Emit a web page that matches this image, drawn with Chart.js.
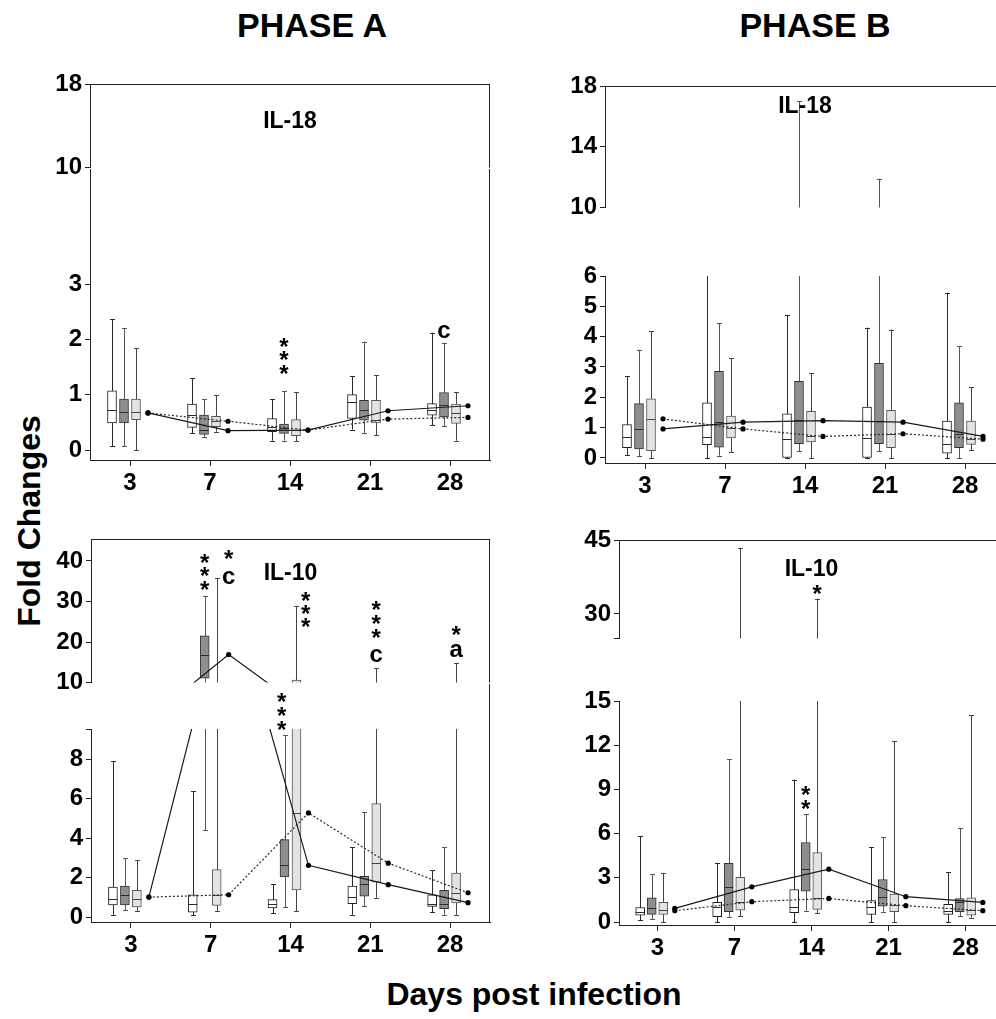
<!DOCTYPE html>
<html>
<head>
<meta charset="utf-8">
<script src="https://cdn.jsdelivr.net/npm/chart.js@4.4.1/dist/chart.umd.min.js"></script>
<style>
  html, body { margin: 0; padding: 0; background: #fff; overflow: hidden; }
  #stage { position: relative; width: 996px; height: 1019px; overflow: hidden; background: #fff; }
  #stage canvas { position: absolute; }
  .t { position: absolute; font-family: "Liberation Sans", Arial, Helvetica, sans-serif; font-weight: bold;
       color: #000; white-space: nowrap; line-height: 1; transform: translate(-50%, -50%); }
</style>
</head>
<body>
<div id="stage">
  <div class="t" style="left:312px; top:25px; font-size:34px;">PHASE A</div>
  <div class="t" style="left:815px; top:25px; font-size:34px;">PHASE B</div>
  <div class="t" style="left:29px; top:521px; font-size:32px; transform: translate(-50%, -50%) rotate(-90deg);">Fold Changes</div>
  <div class="t" style="left:534px; top:994px; font-size:32px;">Days post infection</div>
</div>
<script>
// ---- categories ----
const DAYS = ['3', '7', '14', '21', '28'];

// ---- five-number summaries per day: [lower whisker, Q1, median, Q3, upper whisker] ----
// Phase A, IL-18
const A18_WHITE = [[0.07, 0.49, 0.73, 1.07, 2.36], [0.31, 0.41, 0.63, 0.83, 1.30], [0.17, 0.33, 0.42, 0.57, 0.92], [0.37, 0.57, 0.87, 1.00, 1.33], [0.45, 0.63, 0.72, 0.84, 2.12]];
const A18_DARK  = [[0.07, 0.49, 0.69, 0.92, 2.20], [0.24, 0.28, 0.36, 0.63, 0.92], [0.17, 0.30, 0.39, 0.47, 1.07], [0.31, 0.54, 0.72, 0.90, 1.96], [0.43, 0.60, 0.81, 1.04, 1.94]];
const A18_LIGHT = [[0.00, 0.55, 0.68, 0.92, 1.84], [0.33, 0.42, 0.52, 0.61, 0.99], [0.16, 0.26, 0.36, 0.55, 1.04], [0.27, 0.49, 0.55, 0.90, 1.35], [0.17, 0.48, 0.67, 0.83, 1.04]];
const A18_SOLID  = [0.67, 0.35, 0.36, 0.71, 0.80];
const A18_DOTTED = [0.67, 0.52, 0.36, 0.56, 0.59];

// Phase B, IL-18
const B18_WHITE = [[0.09, 0.34, 0.69, 1.10, 2.69], [0.00, 0.44, 0.69, 1.82, 7.50], [0.00, 0.00, 0.64, 1.46, 4.72], [0.00, 0.00, 0.67, 1.68, 4.30], [0.00, 0.16, 0.47, 1.22, 5.45]];
const B18_DARK  = [[0.05, 0.30, 0.96, 1.79, 3.57], [0.08, 0.36, 1.18, 2.86, 4.45], [0.22, 0.47, 1.24, 2.53, 17.0], [0.23, 0.47, 1.22, 3.12, 11.9], [0.00, 0.34, 0.78, 1.82, 3.69]];
const B18_LIGHT = [[0.00, 0.24, 1.29, 1.95, 4.19], [0.20, 0.66, 0.99, 1.38, 3.29], [0.00, 0.53, 0.74, 1.54, 2.80], [0.00, 0.34, 0.80, 1.57, 4.23], [0.25, 0.45, 0.64, 1.22, 2.33]];
const B18_SOLID  = [0.96, 1.18, 1.23, 1.18, 0.71];
const B18_DOTTED = [1.29, 0.96, 0.71, 0.80, 0.62];

// Phase A, IL-10
const A10_WHITE = [[0.12, 0.62, 0.93, 1.52, 7.88], [0.08, 0.25, 0.68, 1.13, 6.38], [0.20, 0.46, 0.68, 0.88, 1.65], [0.12, 0.68, 1.01, 1.57, 3.54], [0.25, 0.54, 0.68, 1.13, 2.36]];
const A10_DARK  = [[0.34, 0.62, 1.13, 1.57, 2.99], [4.42, 11.1, 16.9, 21.5, 31.4], [0.51, 2.03, 2.65, 3.92, 9.20], [0.54, 1.06, 1.69, 2.06, 5.32], [0.12, 0.42, 0.68, 1.35, 3.54]];
const A10_LIGHT = [[0.29, 0.51, 0.93, 1.35, 2.87], [0.30, 0.59, 1.10, 2.40, 35.7], [0.30, 1.38, 5.27, 10.65, 28.9], [0.98, 1.77, 2.73, 5.74, 13.5], [0.12, 0.71, 1.22, 2.23, 14.9]];
const A10_SOLID  = [1.01, 16.9, 2.62, 1.64, 0.73];
const A10_DOTTED = [1.01, 1.13, 5.27, 2.73, 1.23];

// Phase B, IL-10
const B10_WHITE = [[0.14, 0.47, 0.66, 0.99, 5.83], [0.00, 0.36, 1.04, 1.33, 4.02], [0.00, 0.63, 0.99, 2.21, 9.67], [0.00, 0.52, 1.04, 1.45, 5.06], [0.00, 0.52, 0.77, 1.20, 3.37]];
const B10_DARK  = [[0.20, 0.52, 0.93, 1.65, 3.23], [0.36, 0.70, 2.39, 3.98, 11.05], [0.77, 2.10, 3.57, 5.40, 7.30], [0.70, 1.08, 1.72, 2.89, 5.78], [0.41, 0.70, 1.38, 1.60, 6.39]];
const B10_LIGHT = [[0.00, 0.52, 0.81, 1.33, 3.34], [0.41, 0.81, 1.38, 3.03, 43.4], [0.59, 0.86, 1.60, 4.72, 33.1], [0.00, 0.70, 1.15, 1.90, 12.29], [0.29, 0.47, 0.81, 1.65, 14.03]];
const B10_SOLID  = [0.93, 2.39, 3.59, 1.72, 1.33];
const B10_DOTTED = [0.77, 1.38, 1.60, 1.11, 0.77];

// ---- y tick values of the broken axes (upper and lower part) ----
const A18_TICKS_UP = [10, 18];
const A18_TICKS_LOW = [0, 1, 2, 3];
const B18_TICKS_UP = [10, 14, 18];
const B18_TICKS_LOW = [0, 1, 2, 3, 4, 5, 6];
const A10_TICKS_UP = [10, 20, 30, 40];
const A10_TICKS_LOW = [0, 2, 4, 6, 8];
const B10_TICKS_UP = [30, 45];
const B10_TICKS_LOW = [0, 3, 6, 9, 12, 15];

// ---- drawing constants ----
const FONT = '"Liberation Sans", Arial, Helvetica, sans-serif';
const YW = 70;      // width reserved for the y axis
const XH = 50;      // height reserved for the x axis
const PADT = 20, PADB = 16, PR = 6;
const SLOT = 0.15;  // distance between neighbouring members of a day group, in day units
const S_WHITE = -1.5 * SLOT, S_DARK = -0.5 * SLOT, S_LIGHT = 0.5 * SLOT, S_DOT = 1.5 * SLOT;
const BOX_W = 9;

const STYLE = {
  white: { fill: '#ffffff', edge: '#1e1e1e', whisker: '#2a2a2a', median: '#2a2a2a', shift: S_WHITE },
  dark:  { fill: '#8e8e8e', edge: '#333333', whisker: '#555555', median: '#2e2e2e', shift: S_DARK },
  light: { fill: '#e3e3e3', edge: '#555555', whisker: '#444444', median: '#444444', shift: S_LIGHT }
};

function boxDataset(rows, st) {
  return {
    type: 'bar', order: 2, xAxisID: 'xp', grouped: false,
    data: rows.map((r, i) => ({ x: i + st.shift, y: [r[1], r[3]] })),
    lo: rows.map(r => r[0]), med: rows.map(r => r[2]), hi: rows.map(r => r[4]),
    backgroundColor: st.fill, borderColor: st.edge, borderWidth: 1, borderSkipped: false,
    barThickness: BOX_W, whiskerColor: st.whisker, medianColor: st.median
  };
}

function trendDataset(vals, dotted) {
  return {
    type: 'line', order: 0, xAxisID: 'xp', grouped: false,
    data: vals.map((v, i) => ({ x: i + S_DOT, y: v })),
    borderColor: dotted ? '#2a2a2a' : '#1a1a1a', borderWidth: 1.2,
    borderDash: dotted ? [2, 2] : [],
    pointRadius: 2.6, pointBackgroundColor: '#000', pointBorderColor: '#000', pointBorderWidth: 0,
    tension: 0, fill: false
  };
}

// whiskers behind each box, median line over it
const boxParts = {
  id: 'boxParts',
  beforeDatasetDraw(chart, args) {
    const ds = chart.data.datasets[args.index];
    if (!ds.lo) return;
    const y = chart.scales.y, a = chart.chartArea, ctx = chart.ctx;
    ctx.save();
    ctx.beginPath(); ctx.rect(a.left, a.top, a.right - a.left, a.bottom - a.top); ctx.clip();
    ctx.strokeStyle = ds.whiskerColor; ctx.lineWidth = 1;
    args.meta.data.forEach((bar, j) => {
      const x = Math.round(bar.x) + 0.5;
      const y0 = y.getPixelForValue(ds.lo[j]), y1 = y.getPixelForValue(ds.hi[j]);
      const c = 2.5;
      ctx.beginPath();
      ctx.moveTo(x, y0); ctx.lineTo(x, y1);
      ctx.moveTo(x - c, Math.round(y0) + 0.5); ctx.lineTo(x + c, Math.round(y0) + 0.5);
      ctx.moveTo(x - c, Math.round(y1) + 0.5); ctx.lineTo(x + c, Math.round(y1) + 0.5);
      ctx.stroke();
    });
    ctx.restore();
  },
  afterDatasetDraw(chart, args) {
    const ds = chart.data.datasets[args.index];
    if (!ds.med) return;
    const y = chart.scales.y, a = chart.chartArea, ctx = chart.ctx;
    ctx.save();
    ctx.beginPath(); ctx.rect(a.left, a.top, a.right - a.left, a.bottom - a.top); ctx.clip();
    ctx.strokeStyle = ds.medianColor; ctx.lineWidth = 1;
    args.meta.data.forEach((bar, j) => {
      const ym = Math.round(y.getPixelForValue(ds.med[j])) + 0.5;
      ctx.beginPath();
      ctx.moveTo(bar.x - bar.width / 2, ym); ctx.lineTo(bar.x + bar.width / 2, ym);
      ctx.stroke();
    });
    ctx.restore();
  }
};

// panel frame: top / right edges and the axis lines running through the break
function framePlugin(f) {
  return {
    id: 'frame',
    afterDraw(chart) {
      const a = chart.chartArea, ctx = chart.ctx;
      const L = Math.round(a.left) + 0.5, R = Math.round(a.right) - 0.5, T = Math.round(a.top) + 0.5;
      ctx.save();
      ctx.strokeStyle = '#222'; ctx.lineWidth = 1;
      ctx.beginPath();
      if (f.top) { ctx.moveTo(L - 0.5, T); ctx.lineTo(R + 0.5, T); }
      if (f.right) { ctx.moveTo(R, a.top); ctx.lineTo(R, a.bottom); }
      if (f.riseLeft) { ctx.moveTo(L, 0); ctx.lineTo(L, a.top); }
      if (f.riseRight) { ctx.moveTo(R, 0); ctx.lineTo(R, a.top); }
      ctx.stroke();
      ctx.restore();
    }
  };
}

// text marks placed in data coordinates (group index + slot, value)
function marksPlugin(items) {
  return {
    id: 'marks',
    afterDraw(chart) {
      const ctx = chart.ctx, xs = chart.scales.xp, ys = chart.scales.y;
      items.forEach(it => {
        const x = xs.getPixelForValue(it.g + (it.dx || 0));
        const y = ys.getPixelForValue(it.y);
        ctx.save();
        ctx.font = 'bold ' + (it.size || 24) + 'px ' + FONT;
        ctx.fillStyle = '#000'; ctx.textAlign = 'center'; ctx.textBaseline = 'alphabetic';
        const m = ctx.measureText(it.t);
        ctx.fillText(it.t, x, y + (m.actualBoundingBoxAscent - m.actualBoundingBoxDescent) / 2);
        ctx.restore();
      });
    }
  };
}

function segment(g) {
  const stage = document.getElementById('stage');
  const canvas = document.createElement('canvas');
  const left = g.axisX - YW;
  const above = g.above, below = g.showX ? XH : PADB;
  const width = g.right - left + PR;
  const height = g.bottom - g.top + above + below;
  canvas.width = width; canvas.height = height;
  canvas.style.left = left + 'px'; canvas.style.top = (g.top - above) + 'px';
  canvas.style.width = width + 'px'; canvas.style.height = height + 'px';
  stage.appendChild(canvas);

  const tickVals = g.ticks.slice();
  if (g.endTick === 'top') tickVals.push(g.max);
  if (g.endTick === 'bottom') tickVals.unshift(g.min);
  const labelled = new Set(g.ticks);
  const tickFont = { family: FONT, size: 24, weight: 'bold' };

  new Chart(canvas, {
    type: 'bar',
    data: {
      labels: DAYS,
      datasets: [
        trendDataset(g.solid, false),
        trendDataset(g.dotted, true),
        boxDataset(g.white, STYLE.white),
        boxDataset(g.dark, STYLE.dark),
        boxDataset(g.light, STYLE.light)
      ]
    },
    options: {
      responsive: false, animation: false, devicePixelRatio: 1,
      layout: { padding: { top: above, bottom: g.showX ? 0 : PADB, left: 0, right: PR } },
      plugins: { legend: { display: false }, tooltip: { enabled: false } },
      scales: {
        x: {
          type: 'category', offset: true, display: g.showX,
          grid: { display: true, drawOnChartArea: false, offset: false, tickLength: 6, color: '#222' },
          border: { display: true, color: '#222', width: 1 },
          ticks: { font: tickFont, color: '#000', padding: 3, maxRotation: 0, autoSkip: false },
          afterFit: s => { if (g.showX) s.height = XH; }
        },
        xp: { type: 'linear', min: -0.5, max: 4.5, offset: false, display: false, grid: { offset: false } },
        y: {
          type: 'linear', min: g.min, max: g.max,
          afterBuildTicks: s => { s.ticks = tickVals.map(v => ({ value: v })); },
          afterFit: s => { s.width = YW; },
          grid: { drawOnChartArea: false, tickLength: 5, color: '#222' },
          border: { display: true, color: '#222', width: 1 },
          ticks: { font: tickFont, color: '#000', padding: 3, autoSkip: false,
                   callback: v => labelled.has(v) ? String(v) : '' }
        }
      }
    },
    plugins: [boxParts, framePlugin(g.frame || {}), marksPlugin(g.marks || [])]
  });
}

function panel(p) {
  const common = { axisX: p.axisX, right: p.right, white: p.white, dark: p.dark, light: p.light, solid: p.solid, dotted: p.dotted };
  segment(Object.assign({}, common, p.up, { showX: false, above: PADT }));
  segment(Object.assign({}, common, p.low, { showX: true, above: p.low.top - p.up.bottom }));
}

// Phase A, IL-18
panel({
  axisX: 90, right: 490, white: A18_WHITE, dark: A18_DARK, light: A18_LIGHT, solid: A18_SOLID, dotted: A18_DOTTED,
  up: { top: 84, bottom: 169, min: 10, max: 18, ticks: A18_TICKS_UP, frame: { top: true, right: true },
        marks: [{ g: 2, y: 14.6, t: 'IL-18', size: 23 }] },
  low: { top: 284, bottom: 460, min: -0.18, max: 3, ticks: A18_TICKS_LOW, frame: { right: true, riseLeft: true, riseRight: true },
         marks: [{ g: 2, dx: S_DARK, y: 1.95, t: '*' }, { g: 2, dx: S_DARK, y: 1.70, t: '*' }, { g: 2, dx: S_DARK, y: 1.45, t: '*' },
                 { g: 4, dx: S_DARK, y: 2.15, t: 'c' }] }
});

// Phase B, IL-18
panel({
  axisX: 605, right: 1005, white: B18_WHITE, dark: B18_DARK, light: B18_LIGHT, solid: B18_SOLID, dotted: B18_DOTTED,
  up: { top: 86, bottom: 209, min: 10, max: 18, ticks: B18_TICKS_UP, frame: { top: true },
        marks: [{ g: 2, y: 16.8, t: 'IL-18', size: 23 }] },
  low: { top: 276, bottom: 463, min: -0.165, max: 6, ticks: B18_TICKS_LOW, frame: {} }
});

// Phase A, IL-10
panel({
  axisX: 91, right: 490, white: A10_WHITE, dark: A10_DARK, light: A10_LIGHT, solid: A10_SOLID, dotted: A10_DOTTED,
  up: { top: 539, bottom: 684, min: 10, max: 45.4, ticks: A10_TICKS_UP, frame: { top: true, right: true },
        marks: [{ g: 2, y: 37.3, t: 'IL-10', size: 23 },
                { g: 1, dx: S_DARK, y: 40.7, t: '*' }, { g: 1, dx: S_DARK, y: 37.3, t: '*' }, { g: 1, dx: S_DARK, y: 33.9, t: '*' },
                { g: 1, dx: S_DOT, y: 41.5, t: '*' }, { g: 1, dx: S_DOT, y: 35.9, t: 'c' },
                { g: 2, dx: 0.19, y: 31.2, t: '*' }, { g: 2, dx: 0.19, y: 28.0, t: '*' }, { g: 2, dx: 0.19, y: 24.9, t: '*' },
                { g: 3, dx: S_LIGHT, y: 29.0, t: '*' }, { g: 3, dx: S_LIGHT, y: 25.6, t: '*' }, { g: 3, dx: S_LIGHT, y: 22.2, t: '*' },
                { g: 3, dx: S_LIGHT, y: 16.8, t: 'c' },
                { g: 4, dx: S_LIGHT, y: 22.9, t: '*' }, { g: 4, dx: S_LIGHT, y: 17.8, t: 'a' }] },
  low: { top: 729, bottom: 922, min: -0.25, max: 9.52, ticks: A10_TICKS_LOW, endTick: 'top', frame: { right: true, riseRight: true },
         marks: [{ g: 2, dx: -0.11, y: 11.1, t: '*' }, { g: 2, dx: -0.11, y: 10.4, t: '*' }, { g: 2, dx: -0.11, y: 9.7, t: '*' }] }
});

// Phase B, IL-10
panel({
  axisX: 619, right: 1004, white: B10_WHITE, dark: B10_DARK, light: B10_LIGHT, solid: B10_SOLID, dotted: B10_DOTTED,
  up: { top: 540, bottom: 640, min: 25, max: 45, ticks: B10_TICKS_UP, endTick: 'bottom', frame: { top: true },
        marks: [{ g: 2, y: 39.4, t: 'IL-10', size: 23 }, { g: 2, dx: S_LIGHT, y: 35, t: '*' }] },
  low: { top: 701, bottom: 925, min: -0.2, max: 15, ticks: B10_TICKS_LOW, frame: {},
         marks: [{ g: 2, dx: S_DARK, y: 8.96, t: '*' }, { g: 2, dx: S_DARK, y: 8.0, t: '*' }] }
});
</script>
</body>
</html>
